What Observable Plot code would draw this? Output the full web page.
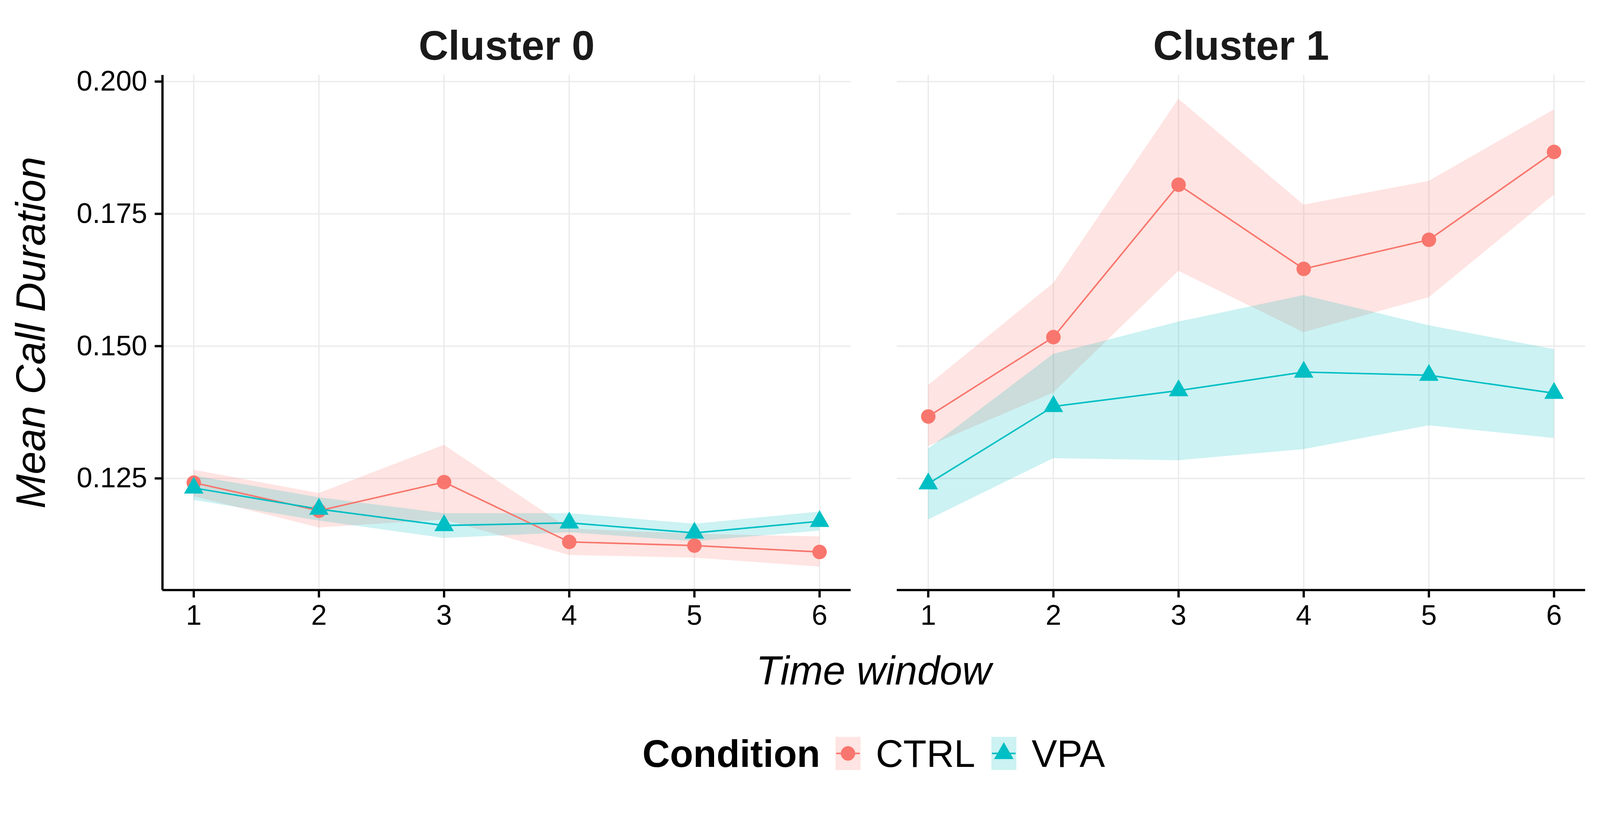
<!DOCTYPE html>
<html>
<head>
<meta charset="utf-8">
<script src="https://cdn.jsdelivr.net/npm/d3@7"></script>
<script src="https://cdn.jsdelivr.net/npm/@observablehq/plot@0.6"></script>
<style>
  html, body { margin: 0; padding: 0; background: #fff; overflow: hidden; }
  body { font-family: "Liberation Sans", Arial, Helvetica, sans-serif; color: #000; }
  #wrap { position: relative; width: 4200px; height: 2100px; overflow: hidden; background: #fff; transform-origin: 0 0; }
  #chart { position: absolute; left: 0; top: 0; }
  #xlabel { position: absolute; left: 426px; width: 3735px; top: 1708px; text-align: center; font-style: italic; font-size: 106px; line-height: 1; }
  #legend { position: absolute; left: 426px; width: 3735px; top: 1935px; height: 87px; display: flex; justify-content: center; align-items: center; }
  #legend .title { font-weight: bold; font-size: 100px; line-height: 1; }
  #legend .lab { font-size: 100px; line-height: 1; }
  #legend svg { display: block; }
</style>
</head>
<body>
<div id="wrap">
  <div id="chart"></div>
  <div id="xlabel">Time window</div>
  <div id="legend"></div>
</div>
<script>
// ---- data ----
const clusters = ["Cluster 0", "Cluster 1"];
const conditions = ["CTRL", "VPA"];
const timeWindows = [1, 2, 3, 4, 5, 6];
const yTicks = [0.125, 0.150, 0.175, 0.200];

// Cluster 0
const ctrl0Mean = [0.1242, 0.1189, 0.1243, 0.1130, 0.1123, 0.1111];
const ctrl0Lo   = [0.1216, 0.1157, 0.1172, 0.1105, 0.1100, 0.1083];
const ctrl0Hi   = [0.1266, 0.1222, 0.1313, 0.1155, 0.1145, 0.1140];
const vpa0Mean  = [0.1232, 0.1192, 0.1161, 0.1166, 0.1147, 0.1169];
const vpa0Lo    = [0.1209, 0.1170, 0.1137, 0.1148, 0.1131, 0.1151];
const vpa0Hi    = [0.1255, 0.1214, 0.1184, 0.1184, 0.1164, 0.1187];

// Cluster 1
const ctrl1Mean = [0.1367, 0.1517, 0.1805, 0.1646, 0.1701, 0.1867];
const ctrl1Lo   = [0.1311, 0.1412, 0.1642, 0.1526, 0.1592, 0.1786];
const ctrl1Hi   = [0.1426, 0.1619, 0.1967, 0.1767, 0.1812, 0.1947];
const vpa1Mean  = [0.1240, 0.1386, 0.1416, 0.1451, 0.1445, 0.1411];
const vpa1Lo    = [0.1172, 0.1288, 0.1284, 0.1305, 0.1350, 0.1326];
const vpa1Hi    = [0.1306, 0.1485, 0.1546, 0.1596, 0.1539, 0.1494];

const yDomain = [0.1039, 0.2012];
const xDomain = [0.75, 6.25];
const colors = ["#F8766D", "#00BFC4"];

// ---- build table ----
const series = [
  ["Cluster 0", "CTRL", ctrl0Mean, ctrl0Lo, ctrl0Hi],
  ["Cluster 0", "VPA", vpa0Mean, vpa0Lo, vpa0Hi],
  ["Cluster 1", "CTRL", ctrl1Mean, ctrl1Lo, ctrl1Hi],
  ["Cluster 1", "VPA", vpa1Mean, vpa1Lo, vpa1Hi]
];
const rows = [];
for (const [cluster, cond, m, lo, hi] of series) {
  timeWindows.forEach((t, i) => rows.push({cluster, cond, t, mean: m[i], lo: lo[i], hi: hi[i]}));
}

const font = '"Liberation Sans", Arial, Helvetica, sans-serif';

const chart = Plot.plot({
  width: 4200,
  height: 1680,
  marginTop: 197,
  marginBottom: 131,
  marginLeft: 426,
  marginRight: 39,
  style: {fontFamily: font, color: "#000", background: "#fff", overflow: "visible"},
  facet: {marginTop: 0, marginBottom: 0, marginLeft: 0, marginRight: 0},
  fx: {domain: clusters, paddingInner: 0.0628, paddingOuter: 0},
  x: {domain: xDomain},
  y: {domain: yDomain},
  color: {domain: conditions, range: colors},
  symbol: {domain: conditions, range: ["circle", "triangle"]},
  marks: [
    Plot.gridY(yTicks, {stroke: "#EBEBEB", strokeOpacity: 1, strokeWidth: 3.5}),
    Plot.gridX(timeWindows, {stroke: "#EBEBEB", strokeOpacity: 1, strokeWidth: 3.5}),
    Plot.areaY(rows, {fx: "cluster", x: "t", y1: "lo", y2: "hi", z: "cond", fill: "cond", fillOpacity: 0.2}),
    Plot.line(rows, {fx: "cluster", x: "t", y: "mean", z: "cond", stroke: "cond", strokeWidth: 4}),
    Plot.dot(rows, {fx: "cluster", x: "t", y: "mean", fill: "cond", symbol: "cond", r: 19}),
    Plot.ruleY([yDomain[0]], {stroke: "#000", strokeWidth: 6}),
    Plot.ruleX([{cluster: "Cluster 0", x: xDomain[0]}], {fx: "cluster", x: "x", stroke: "#000", strokeWidth: 6}),
    Plot.axisX(timeWindows, {tickSize: 20, tickPadding: 19, fontSize: 74, strokeWidth: 6, stroke: "#000", label: null, tickFormat: "d"}),
    Plot.axisY(yTicks, {tickSize: 20, tickPadding: 20, fontSize: 74, strokeWidth: 6, stroke: "#000", label: null, tickFormat: d3.format(".3f")}),
    Plot.axisFx({anchor: "top", tickSize: 0, tickPadding: 41, fontSize: 108, fontWeight: "bold", fill: "#1A1A1A", label: null}),
    Plot.text([{cluster: "Cluster 0", label: "Mean Call Duration"}], {
      fx: "cluster", text: "label", frameAnchor: "left", textAnchor: "middle", rotate: -90, dx: -309,
      lineAnchor: "bottom", fontSize: 108, fontStyle: "italic", fill: "#000"
    })
  ]
});
document.getElementById("chart").appendChild(chart);

// ---- legend ----
const legend = d3.select("#legend");
legend.append("span").attr("class", "title").text("Condition");
const symR = 19;
conditions.forEach((c, i) => {
  const sw = legend.append("svg").attr("width", 66).attr("height", 87)
    .style("margin-left", i === 0 ? "40px" : "42px").style("margin-right", "40px");
  sw.append("rect").attr("width", 66).attr("height", 87).attr("fill", colors[i]).attr("fill-opacity", 0.2);
  sw.append("line").attr("x1", 2).attr("x2", 64).attr("y1", 43.5).attr("y2", 43.5)
    .attr("stroke", colors[i]).attr("stroke-width", 4);
  const sym = i === 0 ? d3.symbolCircle : d3.symbolTriangle;
  sw.append("path").attr("transform", "translate(33,43.5)")
    .attr("d", d3.symbol(sym, Math.PI * symR * symR)()).attr("fill", colors[i]);
  legend.append("span").attr("class", "lab").text(c);
});

// fit the 4200x2100 page into the viewport
function fit() {
  const s = Math.min(window.innerWidth / 4200, window.innerHeight / 2100);
  document.getElementById("wrap").style.transform = s < 1 ? `scale(${s})` : "none";
}
fit();
window.addEventListener("resize", fit);
</script>
</body>
</html>
